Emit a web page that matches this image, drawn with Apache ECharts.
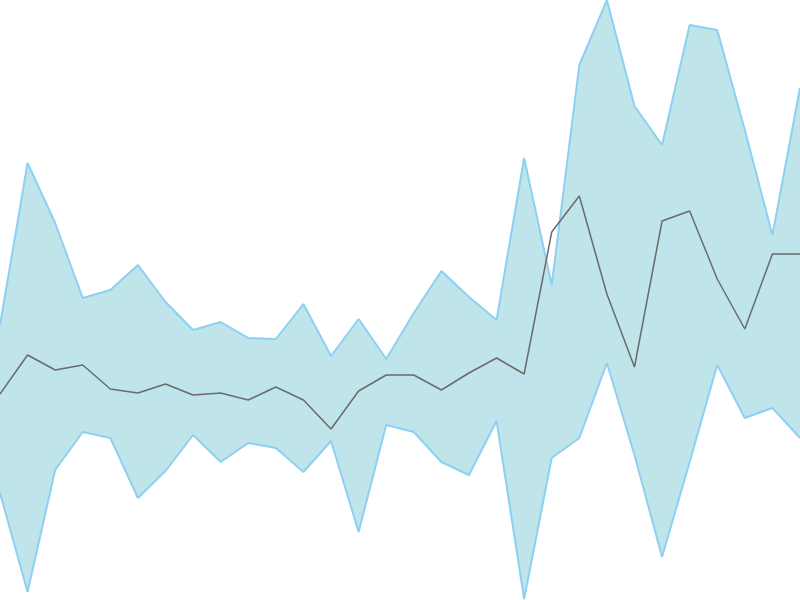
<!DOCTYPE html>
<html>
<head>
<meta charset="utf-8">
<script src="https://cdn.jsdelivr.net/npm/echarts@6/dist/echarts.min.js"></script>
<style>html,body{margin:0;padding:0;background:#fff}#c{width:800px;height:600px}</style>
</head>
<body>
<div id="c"></div>
<script>
const categories = Array.from({length: 30}, (_, i) => 'P' + (i + 1));
const lowerValues = [107, 8, 130, 168, 162, 102, 129, 165, 138, 157, 152, 128, 159, 68, 175, 168, 138, 125, 179, 1, 142, 162, 237, 145, 43, 138, 235, 182, 192, 162];
const upperValues = [275, 437, 377, 302, 310, 335, 298, 270, 278, 262, 261, 296, 244, 281, 241, 287, 329, 303, 280, 442, 315, 535, 600, 494, 455, 575, 570, 470, 365, 512];
const meanValues = [206, 245, 230, 235, 211, 207, 216, 205, 207, 200, 213, 200, 171, 209, 225, 225, 210, 227, 242, 226, 368, 404, 306, 233, 379, 389, 321, 271, 346, 346];

const bandValues = upperValues.map((u, i) => u - lowerValues[i]);
const chart = echarts.init(document.getElementById('c'));
chart.setOption({
  animation: false,
  grid: {left: 0, right: 0, top: 0, bottom: 0},
  xAxis: {type: 'category', data: categories, boundaryGap: false, show: false},
  yAxis: {type: 'value', min: 0, max: 600, show: false},
  series: [
    {type: 'line', data: lowerValues, stack: 'band', symbol: 'none',
     lineStyle: {color: '#8dd0f3', width: 2}},
    {type: 'line', data: bandValues, stack: 'band', symbol: 'none',
     lineStyle: {color: '#8dd0f3', width: 2},
     areaStyle: {color: '#bfe4e9', opacity: 1}},
    {type: 'line', data: meanValues, symbol: 'none',
     lineStyle: {color: '#6b6b6b', width: 1.5}}
  ]
});
</script>
</body>
</html>
